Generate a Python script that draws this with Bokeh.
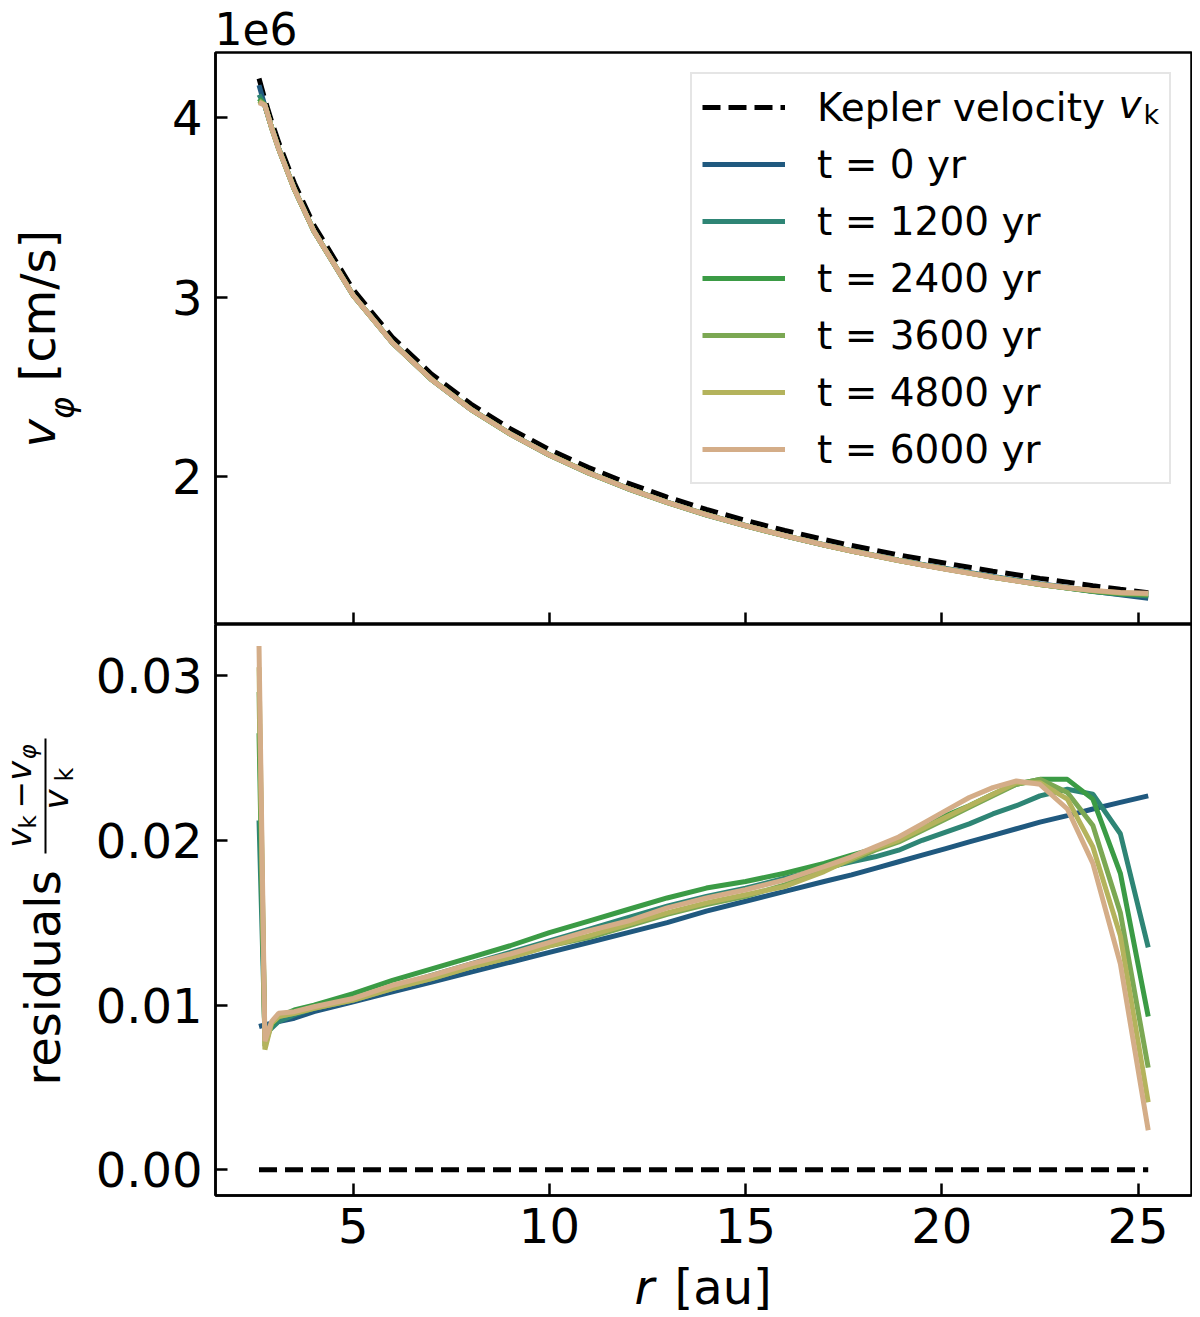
import math
from bokeh.plotting import figure
from bokeh.models import (Range1d, FixedTicker, NumeralTickFormatter, Legend,
                          LegendItem, Label, CustomJSTickFormatter)
from bokeh.layouts import column, row
from bokeh.embed import file_html
from bokeh.resources import INLINE

# ---------------- data ----------------
r = [2.60, 2.75, 2.92, 3.10, 3.5, 4.0, 5.0, 6.0, 7.0, 8.0, 9.0, 10.0, 11.0,
     12.0, 13.0, 14.0, 15.0, 16.0, 17.0, 17.7, 18.3, 18.9, 19.5, 20.1, 20.7,
     21.3, 21.9, 22.5, 23.2, 23.85, 24.55, 25.26]

# Kepler velocity in units of 1e6 cm/s
v_kepler = [4.217, 4.100, 3.979, 3.862, 3.635, 3.400, 3.041, 2.776, 2.570,
            2.404, 2.267, 2.150, 2.050, 1.963, 1.886, 1.817, 1.756, 1.700,
            1.649, 1.616, 1.590, 1.564, 1.540, 1.517, 1.495, 1.473, 1.453,
            1.433, 1.412, 1.392, 1.372, 1.353]

kepler_residual = [0.0] * len(r)

res_t0 = [0.0087, 0.0088, 0.0089, 0.0090, 0.0092, 0.0096, 0.0102, 0.0108,
          0.0114, 0.0120, 0.0126, 0.0132, 0.0138, 0.0144, 0.0150, 0.0157,
          0.0163, 0.0169, 0.0175, 0.0179, 0.0183, 0.0187, 0.0191, 0.0195,
          0.0199, 0.0203, 0.0207, 0.0211, 0.0215, 0.0219, 0.0223, 0.0227]
res_t1200 = [0.0212, 0.0082, 0.0086, 0.0090, 0.0094, 0.0098, 0.0104, 0.0111,
             0.0118, 0.0125, 0.0132, 0.0139, 0.0146, 0.0153, 0.0160, 0.0166,
             0.0171, 0.0177, 0.0183, 0.0187, 0.0190, 0.0194, 0.0200, 0.0205,
             0.0210, 0.0216, 0.0221, 0.0227, 0.0231, 0.0228, 0.0204, 0.0135]
res_t2400 = [0.0265, 0.0078, 0.0088, 0.0093, 0.0097, 0.0100, 0.0107, 0.0115,
             0.0122, 0.0129, 0.0136, 0.0144, 0.0151, 0.0158, 0.0165, 0.0171,
             0.0175, 0.0180, 0.0186, 0.0191, 0.0195, 0.0200, 0.0207, 0.0215,
             0.0221, 0.0228, 0.0234, 0.0237, 0.0237, 0.0225, 0.0180, 0.0093]
res_t3600 = [0.0290, 0.0075, 0.0089, 0.0093, 0.0095, 0.0098, 0.0103, 0.0110,
             0.0116, 0.0123, 0.0129, 0.0136, 0.0141, 0.0148, 0.0155, 0.0161,
             0.0166, 0.0173, 0.0182, 0.0188, 0.0194, 0.0199, 0.0206, 0.0213,
             0.0220, 0.0227, 0.0234, 0.0237, 0.0229, 0.0209, 0.0156, 0.0062]
res_t4800 = [0.0305, 0.0073, 0.0089, 0.0093, 0.0095, 0.0098, 0.0103, 0.0110,
             0.0116, 0.0123, 0.0129, 0.0136, 0.0142, 0.0149, 0.0156, 0.0162,
             0.0167, 0.0172, 0.0181, 0.0189, 0.0195, 0.0200, 0.0207, 0.0214,
             0.0221, 0.0228, 0.0235, 0.0235, 0.0225, 0.0196, 0.0142, 0.0041]
res_t6000 = [0.0318, 0.0078, 0.0090, 0.0095, 0.0096, 0.0099, 0.0104, 0.0112,
             0.0118, 0.0125, 0.0131, 0.0138, 0.0145, 0.0151, 0.0159, 0.0165,
             0.0170, 0.0176, 0.0184, 0.0190, 0.0196, 0.0202, 0.0210, 0.0218,
             0.0226, 0.0232, 0.0236, 0.0234, 0.0219, 0.0186, 0.0125, 0.0024]

times = ["0", "1200", "2400", "3600", "4800", "6000"]
residuals = [res_t0, res_t1200, res_t2400, res_t3600, res_t4800, res_t6000]
colors = ["#20597f", "#2e8575", "#3b9b45", "#7ba853", "#b4b35c", "#d4ad88"]

x_ticks = [5, 10, 15, 20, 25]
top_ticks = [2, 3, 4]
bot_ticks = [0.0, 0.01, 0.02, 0.03]

# ---------------- geometry (page pixels) ----------------
FONT = "DejaVu Sans"
X0, X1 = 1.491, 26.363
YT0, YT1 = 1.176, 4.362
YB0, YB1 = -0.00156, 0.0331
PAGE_W = 1192
WL = 90                 # width of the left label strips
TOP_H = 50              # top strip (offset text)
P1_H = 574              # top panel figure  (page y 50..624)
P2_H = 636              # bottom panel figure (page y 624..1260)
BOT_H = 55              # bottom strip (x label) (page y 1260..1315)
FL = 215                # frame left on page
FR = 1191               # frame right on page
TT, TB = 52, 624
BT, BB = 624, 1195
BASE_K = 0.37           # baseline correction (fraction of font size)


def py_top(py):
    return YT1 - (py - TT) * (YT1 - YT0) / (TB - TT)


def px_x(px):
    return X0 + (px - FL) * (X1 - X0) / (FR - FL)


def strip(w, h, yspan):
    f = figure(width=w, height=h, x_range=Range1d(0, w),
               y_range=Range1d(yspan, 0),
               output_backend="svg", toolbar_location=None,
               x_axis_type=None, y_axis_type=None,
               min_border_left=0, min_border_right=0, min_border_top=0,
               min_border_bottom=0)
    f.grid.visible = False
    f.outline_line_color = None
    f.background_fill_color = "white"
    f.border_fill_color = "white"
    return f


def lab(p, text, x, y, size, style="normal", rotated=False):
    """x, y: text start on the baseline (strip pixel coordinates)."""
    if rotated:
        x = x - BASE_K * size
    else:
        y = y - BASE_K * size
    p.add_layout(Label(x=x, y=y, text=text,
                       angle=(math.pi / 2 if rotated else 0.0),
                       text_align="left", text_baseline="alphabetic",
                       text_font=FONT, text_font_size=f"{size}px",
                       text_font_style=style, text_color="black"))


xr = Range1d(X0, X1)
p1 = figure(width=PAGE_W - WL, height=P1_H, x_range=xr,
            y_range=Range1d(YT0, YT1),
            output_backend="svg", toolbar_location=None,
            min_border_left=FL - WL, min_border_right=1,
            min_border_top=TT - TOP_H, min_border_bottom=0)
p2 = figure(width=PAGE_W - WL, height=P2_H, x_range=xr,
            y_range=Range1d(YB0, YB1),
            output_backend="svg", toolbar_location=None,
            min_border_left=FL - WL, min_border_right=1, min_border_top=0,
            min_border_bottom=(TB + P2_H) - BB)

for p in (p1, p2):
    p.grid.visible = False
    p.outline_line_color = "black"
    p.outline_line_width = 2.5
    p.background_fill_color = "white"
    p.border_fill_color = "white"
    for ax in (p.xaxis[0], p.yaxis[0]):
        ax.major_tick_in = 12
        ax.major_tick_out = 0
        ax.minor_tick_line_color = None
        ax.major_tick_line_width = 2.5
        ax.major_tick_line_color = "black"
        ax.axis_line_width = 2.5
        ax.axis_line_color = "black"
        ax.major_label_text_font = FONT
        ax.major_label_text_font_size = "48px"
        ax.major_label_text_color = "black"
    p.xaxis[0].ticker = FixedTicker(ticks=x_ticks)
    p.yaxis[0].major_label_standoff = 13

p1.xaxis[0].formatter = CustomJSTickFormatter(code="return ''")
p1.xaxis[0].major_label_text_font_size = "1px"
p1.xaxis[0].major_label_standoff = 0
p1.yaxis[0].ticker = FixedTicker(ticks=top_ticks)
p1.yaxis[0].formatter = NumeralTickFormatter(format="0")
p2.yaxis[0].ticker = FixedTicker(ticks=bot_ticks)
p2.yaxis[0].formatter = NumeralTickFormatter(format="0.00")
p2.xaxis[0].major_label_standoff = 12

# ---------------- glyphs ----------------
kep = p1.line(r, v_kepler, line_color="black", line_width=5, line_dash="18 8")
top_rends = []
for res, c in zip(residuals, colors):
    v_phi = [vk * (1.0 - e) for vk, e in zip(v_kepler, res)]
    top_rends.append(p1.line(r, v_phi, line_color=c, line_width=5))

p2.line(r, kepler_residual, line_color="black", line_width=5, line_dash="18 8")
for res, c in zip(residuals, colors):
    p2.line(r, res, line_color=c, line_width=5)

# ---------------- legend ----------------
items = [LegendItem(label="Kepler velocity", renderers=[kep])]
for t, rr in zip(times, top_rends):
    items.append(LegendItem(label=f"t = {t} yr", renderers=[rr]))
legend = Legend(items=items, location="top_right", margin=20, padding=10,
                glyph_width=83, glyph_height=46, label_height=46,
                label_width=342, label_standoff=32, spacing=11,
                label_text_font=FONT, label_text_font_size="39px",
                label_text_color="black",
                border_line_color="#cccccc", border_line_width=2,
                background_fill_color="white", background_fill_alpha=0.0)
p1.add_layout(legend)

# legend math: v_k  (page pixels converted to the top panel's data units)
for text, px, py, size, style in [("v", 1118, 118, 39, "italic"),
                                  ("k", 1143, 124, 27, "normal")]:
    p1.add_layout(Label(x=px_x(px), y=py_top(py - BASE_K * size), text=text,
                        text_align="left", text_baseline="alphabetic",
                        text_font=FONT, text_font_size=f"{size}px",
                        text_font_style=style, text_color="black",
                        level="overlay"))

# ---------------- text strips ----------------
top_strip = strip(PAGE_W, TOP_H, TOP_H)
lab(top_strip, "1e6", 214, 44, 44)

# left strips: their frames line up with the panel frames
left1 = strip(WL, P1_H, TB - TT)
o1 = TT
lab(left1, "v", 55, 447 - o1, 48, "italic", True)
lab(left1, "φ", 74, 419 - o1, 34, "italic", True)
lab(left1, "[cm/s]", 55, 381 - o1, 48, "normal", True)

left2 = strip(WL, P2_H, BB - BT)
o2 = BT
lab(left2, "residuals", 60, 1085 - o2, 48, "normal", True)
lab(left2, "v", 31, 847 - o2, 33, "italic", True)
lab(left2, "k", 36, 828 - o2, 23, "normal", True)
lab(left2, "−", 31, 808 - o2, 33, "normal", True)
lab(left2, "v", 31, 780 - o2, 33, "italic", True)
lab(left2, "φ", 36, 759 - o2, 23, "italic", True)
lab(left2, "v", 68, 809 - o2, 34, "italic", True)
lab(left2, "k", 73, 781 - o2, 24, "normal", True)
frac_x = [45, 45]
frac_y = [853 - o2, 738 - o2]
left2.line(frac_x, frac_y, line_color="black", line_width=2)

bot_strip = strip(PAGE_W, BOT_H, BOT_H)
o3 = TB + P2_H
lab(bot_strip, "r", 634, 1304 - o3, 48, "italic")
lab(bot_strip, "[au]", 674, 1304 - o3, 48)

layout = column(top_strip, row(left1, p1), row(left2, p2), bot_strip)
open("out.html", "w").write(file_html(layout, INLINE))
